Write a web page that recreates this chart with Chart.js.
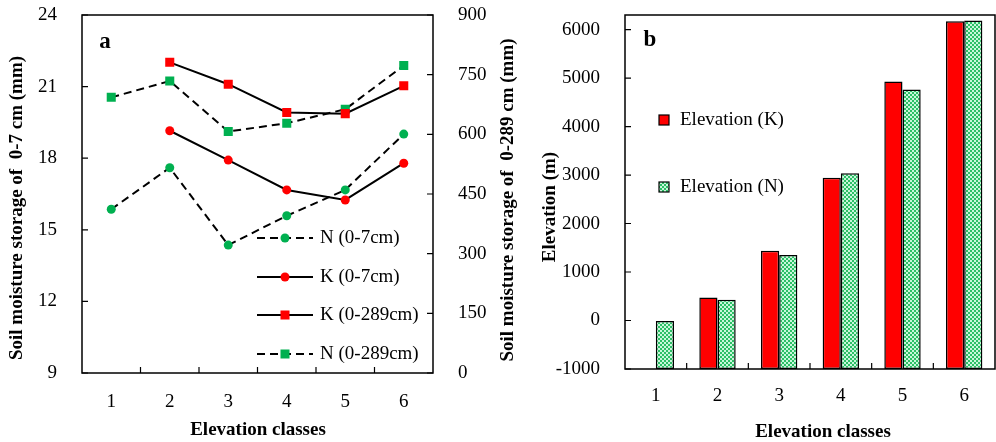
<!DOCTYPE html>
<html>
<head>
<meta charset="utf-8">
<script src="https://cdn.jsdelivr.net/npm/chart.js@4.4.1/dist/chart.umd.min.js"></script>
<style>
  html, body { margin: 0; padding: 0; background: #fff; }
  #wrap { position: relative; width: 996px; height: 442px; overflow: hidden; }
  #left { position: absolute; left: 0; top: 0; }
  #right { position: absolute; left: 530px; top: 0; }
</style>
</head>
<body>
<div id="wrap">
  <canvas id="left" width="530" height="442"></canvas>
  <canvas id="right" width="466" height="442"></canvas>
</div>
<script>
'use strict';

// ************* DATA *******************
const classes = ['1', '2', '3', '4', '5', '6'];

// soil moisture 0-7 cm (left axis, mm)
const nSurface = [15.86, 17.6, 14.36, 15.59, 16.67, 19.01];
const kSurface = [null, 19.15, 17.92, 16.67, 16.25, 17.79];

// soil moisture 0-289 cm (right axis, mm)
const kProfile = [null, 781, 726, 655, 652, 722];
const nProfile = [693, 734, 607, 628, 663, 773];

// elevation (m)
const elevK = [null, 474, 1441, 2944, 4929, 6170];
const elevN = [-10, 426, 1353, 3035, 4764, 6185];

// tick labels
const surfaceTicks = [9, 12, 15, 18, 21, 24];
const profileTicks = [0, 150, 300, 450, 600, 750, 900];
const elevTicks = [-1000, 0, 1000, 2000, 3000, 4000, 5000, 6000];

// ************* STYLE *******************
const serif = "'Liberation Serif', 'Times New Roman', serif";
const RED = '#ff0000';
const GREEN = '#00b050';

Chart.defaults.font.family = serif;
Chart.defaults.color = '#000';

// green checker fill for the N bars
function makePattern() {
  let c = document.createElement('canvas');
  c.width = 4;
  c.height = 4;
  let g = c.getContext('2d');
  g.fillStyle = '#2cbf66';
  g.fillRect(0, 0, 4, 4);
  g.fillStyle = '#c8f7da';
  g.fillRect(0, 0, 2, 2);
  g.fillRect(2, 2, 2, 2);
  return g.createPattern(c, 'repeat');
}
const greenPattern = makePattern();

// plain numbers, no thousands separator
function plainLabel(v) {
  return String(v);
}

// fix the axis box size and drop the label overhang padding
function fixSize(w, h) {
  return function (s) {
    if (w) s.width = w;
    if (h) s.height = h;
    s.paddingTop = 0;
    s.paddingBottom = 0;
    s.paddingLeft = 0;
    s.paddingRight = 0;
  };
}

// ***** SHARED PLUGINS *****

// frame round the plot and inward tick marks
const frameTicks = {
  id: 'frameTicks',
  afterDraw(chart) {
    const ctx = chart.ctx;
    const a = chart.chartArea;
    ctx.save();
    ctx.strokeStyle = '#000';
    ctx.lineWidth = 1.5;
    ctx.strokeRect(a.left, a.top, a.right - a.left, a.bottom - a.top);
    ctx.lineWidth = 1.2;
    ctx.beginPath();
    // x ticks between categories
    let xs = chart.scales.x;
    for (let i = 0; i < classes.length - 1; i++) {
      let px = (xs.getPixelForTick(i) + xs.getPixelForTick(i + 1)) / 2;
      ctx.moveTo(px, a.bottom);
      ctx.lineTo(px, a.bottom - 6);
    }
    // y ticks
    Object.values(chart.scales).forEach(function (s) {
      if (s.axis !== 'y') return;
      s.ticks.forEach(function (t) {
        let py = s.getPixelForValue(t.value);
        if (s.position === 'left') {
          ctx.moveTo(a.left, py);
          ctx.lineTo(a.left + 6, py);
        } else {
          ctx.moveTo(a.right, py);
          ctx.lineTo(a.right - 6, py);
        }
      });
    });
    ctx.stroke();
    ctx.restore();
  }
};

// axis titles and panel letter
function drawText(ctx, text, x, y, font, rotate) {
  ctx.save();
  ctx.translate(x, y);
  if (rotate) ctx.rotate(-Math.PI / 2);
  ctx.font = font;
  ctx.fillStyle = '#000';
  ctx.textAlign = 'center';
  ctx.textBaseline = 'middle';
  ctx.fillText(text, 0, 0);
  ctx.restore();
}

const titleFont = 'bold 19px ' + serif;
const legendFont = '19px ' + serif;

// ***** CHART A *****
const leftLegend = {
  id: 'leftLegend',
  afterDraw(chart) {
    const ctx = chart.ctx;
    drawText(ctx, 'Soil moisture storage of  0-7 cm (mm)', 17, 208, titleFont, true);
    drawText(ctx, 'Soil moisture storage of  0-289 cm (mm)', 508, 200, titleFont, true);
    drawText(ctx, 'Elevation classes', 258, 430, titleFont, false);
    drawText(ctx, 'a', 105, 42, 'bold 23px ' + serif, false);

    // legend entries in the order shown
    const rowsY = [238, 277, 315, 354];
    chart.data.datasets.forEach(function (ds, row) {
      let y = rowsY[row];
      ctx.save();
      ctx.strokeStyle = '#000';
      ctx.lineWidth = 2;
      ctx.setLineDash(ds.borderDash || []);
      ctx.beginPath();
      ctx.moveTo(257, y);
      ctx.lineTo(313, y);
      ctx.stroke();
      ctx.setLineDash([]);
      ctx.fillStyle = ds.pointBackgroundColor;
      if (ds.pointStyle === 'rect') {
        ctx.fillRect(285 - 4.5, y - 4.5, 9, 9);
      } else {
        ctx.beginPath();
        ctx.arc(285, y, 4.5, 0, Math.PI * 2);
        ctx.fill();
      }
      ctx.fillStyle = '#000';
      ctx.font = legendFont;
      ctx.textBaseline = 'middle';
      ctx.fillText(ds.label, 320, y);
      ctx.restore();
    });
  }
};

const lineBase = {
  borderColor: '#000',
  borderWidth: 2,
  tension: 0,
  pointBorderWidth: 0,
  fill: false
};

new Chart(document.getElementById('left'), {
  type: 'line',
  data: {
    labels: classes,
    datasets: [
      Object.assign({}, lineBase, {
        label: 'N (0-7cm)', data: nSurface, yAxisID: 'y',
        borderDash: [8, 5], pointStyle: 'circle', pointRadius: 4.5,
        pointBackgroundColor: GREEN
      }),
      Object.assign({}, lineBase, {
        label: 'K (0-7cm)', data: kSurface, yAxisID: 'y',
        pointStyle: 'circle', pointRadius: 4.5,
        pointBackgroundColor: RED
      }),
      Object.assign({}, lineBase, {
        label: 'K (0-289cm)', data: kProfile, yAxisID: 'y2',
        pointStyle: 'rect', pointRadius: 6.4,
        pointBackgroundColor: RED
      }),
      Object.assign({}, lineBase, {
        label: 'N (0-289cm)', data: nProfile, yAxisID: 'y2',
        borderDash: [8, 5], pointStyle: 'rect', pointRadius: 6.4,
        pointBackgroundColor: GREEN
      })
    ]
  },
  options: {
    responsive: false,
    animation: false,
    devicePixelRatio: 1,
    layout: { padding: { top: 15, left: 0, right: 0, bottom: 0 } },
    plugins: { legend: { display: false }, tooltip: { enabled: false } },
    scales: {
      x: {
        offset: true,
        grid: { display: false },
        border: { display: false },
        ticks: { font: { size: 19 }, padding: 10, color: '#000' },
        afterFit: fixSize(0, 69)
      },
      y: {
        position: 'left',
        min: 9,
        max: 24,
        afterBuildTicks(s) { s.ticks = surfaceTicks.map(v => ({ value: v })); },
        grid: { display: false },
        border: { display: false },
        ticks: { font: { size: 19 }, padding: 17, color: '#000', callback: plainLabel },
        afterFit: fixSize(82, 0)
      },
      y2: {
        position: 'right',
        min: 0,
        max: 900,
        afterBuildTicks(s) { s.ticks = profileTicks.map(v => ({ value: v })); },
        grid: { display: false },
        border: { display: false },
        ticks: { font: { size: 19 }, padding: 17, color: '#000', callback: plainLabel },
        afterFit: fixSize(97, 0)
      }
    }
  },
  plugins: [frameTicks, leftLegend]
});

// ***** CHART B *****
const rightLegend = {
  id: 'rightLegend',
  afterDraw(chart) {
    const ctx = chart.ctx;
    drawText(ctx, 'Elevation (m)', 20, 207, titleFont, true);
    drawText(ctx, 'Elevation classes', 293, 432, titleFont, false);
    drawText(ctx, 'b', 120, 40, 'bold 23px ' + serif, false);

    const rowsY = [120, 187];
    chart.data.datasets.forEach(function (ds, i) {
      let y = rowsY[i];
      ctx.save();
      ctx.fillStyle = ds.backgroundColor;
      ctx.fillRect(129, y - 5, 10, 10);
      ctx.strokeStyle = '#000';
      ctx.lineWidth = 1.2;
      ctx.strokeRect(129, y - 5, 10, 10);
      ctx.fillStyle = '#000';
      ctx.font = legendFont;
      ctx.textBaseline = 'middle';
      ctx.fillText(ds.label, 150, y);
      ctx.restore();
    });
  }
};

new Chart(document.getElementById('right'), {
  type: 'bar',
  data: {
    labels: classes,
    datasets: [
      {
        label: 'Elevation (K)', data: elevK, base: -1000,
        backgroundColor: RED, borderColor: '#000', borderWidth: 1.5,
        borderSkipped: false
      },
      {
        label: 'Elevation (N)', data: elevN, base: -1000,
        backgroundColor: greenPattern, borderColor: '#000', borderWidth: 1.5,
        borderSkipped: false
      }
    ]
  },
  options: {
    responsive: false,
    animation: false,
    devicePixelRatio: 1,
    layout: { padding: { top: 15, left: 0, right: 1, bottom: 0 } },
    datasets: { bar: { categoryPercentage: 0.59, barPercentage: 1 } },
    plugins: { legend: { display: false }, tooltip: { enabled: false } },
    scales: {
      x: {
        grid: { display: false },
        border: { display: false },
        ticks: { font: { size: 19 }, padding: 8, color: '#000' },
        afterFit: fixSize(0, 73)
      },
      y: {
        position: 'left',
        min: -1000,
        max: 6300,
        afterBuildTicks(s) { s.ticks = elevTicks.map(v => ({ value: v })); },
        grid: { display: false },
        border: { display: false },
        ticks: { font: { size: 19 }, padding: 17, color: '#000', callback: plainLabel },
        afterFit: fixSize(95, 0)
      }
    }
  },
  plugins: [frameTicks, rightLegend]
});
</script>
</body>
</html>
